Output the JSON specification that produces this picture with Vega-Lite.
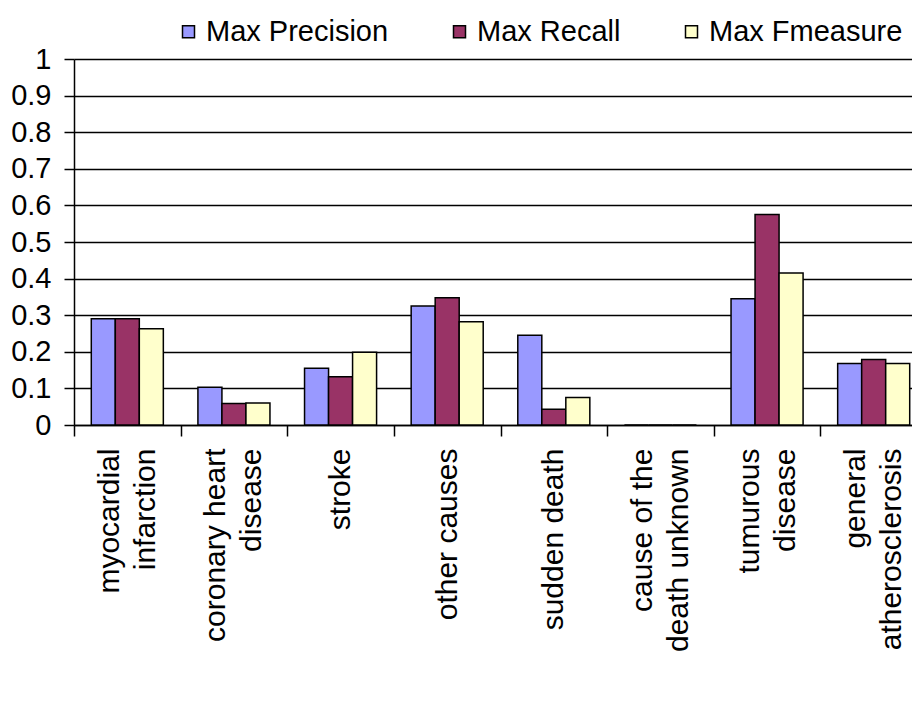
{
  "$schema": "https://vega.github.io/schema/vega-lite/v6.json",
  "width": 838,
  "height": 366,
  "autosize": {"type": "none"},
  "padding": {"left": 74, "top": 59, "right": 0, "bottom": 282},
  "background": "white",
  "config": {
    "view": {"stroke": null},
    "font": "Liberation Sans"
  },
  "data": {
    "values": [
      {"cause": "myocardial infarction", "metric": "Max Precision", "value": 0.29},
      {"cause": "myocardial infarction", "metric": "Max Recall", "value": 0.29},
      {"cause": "myocardial infarction", "metric": "Max Fmeasure", "value": 0.263},
      {"cause": "coronary heart disease", "metric": "Max Precision", "value": 0.103},
      {"cause": "coronary heart disease", "metric": "Max Recall", "value": 0.059},
      {"cause": "coronary heart disease", "metric": "Max Fmeasure", "value": 0.06},
      {"cause": "stroke", "metric": "Max Precision", "value": 0.155},
      {"cause": "stroke", "metric": "Max Recall", "value": 0.132},
      {"cause": "stroke", "metric": "Max Fmeasure", "value": 0.199},
      {"cause": "other causes", "metric": "Max Precision", "value": 0.325},
      {"cause": "other causes", "metric": "Max Recall", "value": 0.348},
      {"cause": "other causes", "metric": "Max Fmeasure", "value": 0.282},
      {"cause": "sudden death", "metric": "Max Precision", "value": 0.245},
      {"cause": "sudden death", "metric": "Max Recall", "value": 0.043},
      {"cause": "sudden death", "metric": "Max Fmeasure", "value": 0.075},
      {"cause": "cause of the death unknown", "metric": "Max Precision", "value": 0},
      {"cause": "cause of the death unknown", "metric": "Max Recall", "value": 0},
      {"cause": "cause of the death unknown", "metric": "Max Fmeasure", "value": 0},
      {"cause": "tumurous disease", "metric": "Max Precision", "value": 0.345},
      {"cause": "tumurous disease", "metric": "Max Recall", "value": 0.575},
      {"cause": "tumurous disease", "metric": "Max Fmeasure", "value": 0.415},
      {"cause": "general atherosclerosis", "metric": "Max Precision", "value": 0.168},
      {"cause": "general atherosclerosis", "metric": "Max Recall", "value": 0.179},
      {"cause": "general atherosclerosis", "metric": "Max Fmeasure", "value": 0.168}
    ]
  },
  "mark": {"type": "bar", "stroke": "black", "strokeWidth": 1.5},
  "encoding": {
    "x": {
      "field": "cause",
      "type": "nominal",
      "sort": null,
      "scale": {"paddingInner": 0, "paddingOuter": 0, "range": [0, 853]},
      "axis": {
        "title": null,
        "tickBand": "extent",
        "tickSize": 11,
        "tickColor": "black",
        "tickWidth": 1.5,
        "domainColor": "black",
        "domainWidth": 1.5,
        "labelAngle": 270,
        "labelAlign": "right",
        "labelBaseline": "middle",
        "labelPadding": 12,
        "labelFontSize": 30,
        "labelLineHeight": 36,
        "labelColor": "black",
        "labelFont": "Liberation Sans",
        "labelLimit": 400,
        "labelOverlap": false,
        "labelOffset": {
          "condition": {
            "test": "datum.value != 'stroke' && datum.value != 'other causes' && datum.value != 'sudden death'",
            "value": -18
          },
          "value": 0
        },
        "labelExpr": "datum.value == 'myocardial infarction' ? ['myocardial','infarction'] : datum.value == 'coronary heart disease' ? ['coronary heart','disease'] : datum.value == 'cause of the death unknown' ? ['cause of the','death unknown'] : datum.value == 'tumurous disease' ? ['tumurous','disease'] : datum.value == 'general atherosclerosis' ? ['general','atherosclerosis'] : datum.value"
      }
    },
    "xOffset": {
      "field": "metric",
      "type": "nominal",
      "sort": ["Max Precision", "Max Recall", "Max Fmeasure"],
      "scale": {"paddingInner": 0, "paddingOuter": 0.72}
    },
    "y": {
      "field": "value",
      "type": "quantitative",
      "scale": {"domain": [0, 1], "nice": false},
      "axis": {
        "title": null,
        "values": [0, 0.1, 0.2, 0.3, 0.4, 0.5, 0.6, 0.7, 0.8, 0.9, 1],
        "format": ".1~f",
        "grid": true,
        "gridColor": "black",
        "gridWidth": 1.5,
        "gridOpacity": 1,
        "domainColor": "black",
        "domainWidth": 1.5,
        "tickColor": "black",
        "tickWidth": 1.5,
        "tickSize": 10,
        "labelPadding": 13,
        "labelFontSize": 29,
        "labelColor": "black",
        "labelFont": "Liberation Sans"
      }
    },
    "color": {
      "field": "metric",
      "type": "nominal",
      "sort": ["Max Precision", "Max Recall", "Max Fmeasure"],
      "scale": {
        "domain": ["Max Precision", "Max Recall", "Max Fmeasure"],
        "range": ["#9999FF", "#993366", "#FFFFCC"]
      },
      "legend": {
        "title": null,
        "orient": "none",
        "direction": "horizontal",
        "legendX": 100,
        "legendY": -42,
        "padding": 0,
        "columnPadding": 56,
        "symbolType": "square",
        "symbolSize": 144,
        "symbolStrokeColor": "black",
        "symbolStrokeWidth": 1.5,
        "symbolOpacity": 1,
        "labelFontSize": 29,
        "labelFont": "Liberation Sans",
        "labelColor": "black",
        "labelOffset": 3,
        "labelLimit": 400
      }
    }
  }
}
